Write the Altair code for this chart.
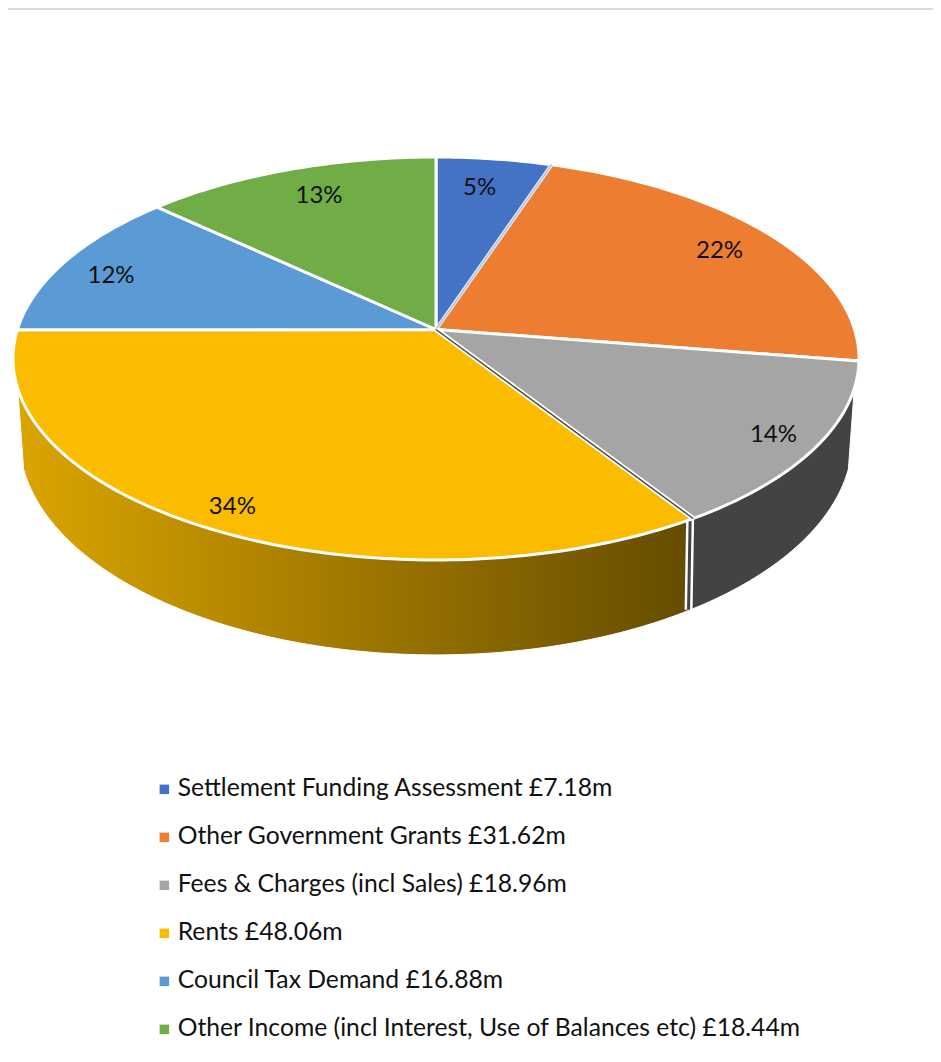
import math
import altair as alt
import pandas as pd

categories = ["Settlement Funding Assessment £7.18m", "Other Government Grants £31.62m",
              "Fees & Charges (incl Sales) £18.96m", "Rents £48.06m",
              "Council Tax Demand £16.88m", "Other Income (incl Interest, Use of Balances etc) £18.44m"]
values = [7.18, 31.62, 18.96, 48.06, 16.88, 18.44]
pct_labels = ["5%", "22%", "14%", "34%", "12%", "13%"]
colors = ["#4472C4", "#ED7D31", "#A5A5A5", "#FBBC00", "#5B9BD5", "#70AD47"]
label_radius = [0.82, 0.84, 0.895, 0.90, 0.86, 0.82]
label_nudge = [-1.0, 0.3, 0.0, 0.0, -1.6, 1.3]

FONT = "Lato"
# perspective disc geometry, offsets from the pie centre
W, H = 925, 1046
CX, CY = 428.0, 321.5
TOP = dict(a=418.6, b=197.3, c=0.0, k=0.1439)
BOT = dict(a=412.0, b=212.0, c=76.0, k=0.15)
WALL_START, WALL_END = 106.7, 253.3


def project(theta, disc, r=1.0):
    t = math.radians(theta)
    X, Y = r * math.sin(t), -r * math.cos(t)
    d = 1 - disc["k"] * Y
    return disc["a"] * X / d, disc["c"] + disc["b"] * Y / d


def arc(t0, t1, disc):
    n = max(2, int(abs(t1 - t0)) + 1)
    return [project(t0 + (t1 - t0) * i / n, disc) for i in range(n + 1)]


total = sum(values)
edges = [0.0]
for v in values:
    edges.append(edges[-1] + v / total * 360)

wedge_rows, text_rows = [], []
for idx, name in enumerate(categories):
    t0, t1 = edges[idx], edges[idx + 1]
    pts = [(0.0, 0.0)] + arc(t0, t1, TOP) + [(0.0, 0.0)]
    for i, (x, y) in enumerate(pts):
        wedge_rows.append({"name": name, "i": i, "x": x, "y": y})
    lx, ly = project((t0 + t1) / 2 + label_nudge[idx], TOP, label_radius[idx])
    text_rows.append({"x": lx, "y": ly, "t": pct_labels[idx]})
wedges = pd.DataFrame(wedge_rows)
texts = pd.DataFrame(text_rows)


def wall(t0, t1):
    pts = arc(t0, t1, TOP) + arc(t1, t0, BOT)
    pts.append(pts[0])
    return pd.DataFrame([{"i": i, "x": x, "y": y} for i, (x, y) in enumerate(pts)])


xs = alt.X("x:Q", axis=None, scale=alt.Scale(domain=[-CX, W - CX], nice=False, zero=False))
ys = alt.Y("y:Q", axis=None, scale=alt.Scale(domain=[H - CY, -CY], nice=False, zero=False))

seam_grey = edges[3]
wall_yellow = alt.Chart(wall(seam_grey, WALL_END)).mark_line(
    stroke="white", strokeWidth=1, strokeJoin="round",
    fill=alt.Gradient(gradient="linear", x1=1, x2=0, y1=0, y2=0, stops=[
        alt.GradientStop(color="#644B00", offset=0.0),
        alt.GradientStop(color="#6B5000", offset=0.06),
        alt.GradientStop(color="#DBA500", offset=1.0),
    ])).encode(x=xs, y=ys, order="i:Q")
wall_grey = alt.Chart(wall(WALL_START, seam_grey)).mark_line(
    stroke="white", strokeWidth=1, strokeJoin="round", fill="#434343"
).encode(x=xs, y=ys, order="i:Q")


def seam(points, color, width):
    df = pd.DataFrame([{"i": i, "x": x, "y": y} for i, (x, y) in enumerate(points)])
    return alt.Chart(df).mark_line(stroke=color, strokeWidth=width).encode(x=xs, y=ys, order="i:Q")


top_pt, bot_pt = project(seam_grey, TOP), project(seam_grey, BOT)
strip = [(top_pt[0] - 3, top_pt[1] + 1), (bot_pt[0] - 2, bot_pt[1])]
seam_layers = [
    seam(strip, "white", 8),
    seam(strip, "#434343", 3),
]

pie = alt.Chart(wedges).mark_line(stroke="white", strokeWidth=3, strokeJoin="round").encode(
    x=xs, y=ys, order="i:Q", detail="name:N",
    fill=alt.Fill("name:N", sort=categories,
                  scale=alt.Scale(domain=categories, range=colors),
                  legend=alt.Legend(orient="none", legendX=144, legendY=769, title=None,
                                    symbolType="square", symbolSize=90, symbolStrokeWidth=0,
                                    labelFont=FONT, labelFontSize=24.7, labelColor="#111111",
                                    labelLimit=800, labelOffset=1, rowPadding=22,
                                    symbolOpacity=1)),
)

seam_top = [
    seam([(0.0, 0.0), project(edges[1], TOP)], "#DCE3F2", 3.8),
    seam([(0.0, 0.0), project(edges[1], TOP)], "#8FA5D4", 0.8),
    seam([(0.0, 0.0), top_pt], "white", 5),
    seam([(0.0, 0.0), top_pt], "#434343", 1.4),
]

labels = alt.Chart(texts).mark_text(font=FONT, fontSize=24, color="#111111", dy=2).encode(
    x=xs, y=ys, text="t:N")

topline = alt.Chart(pd.DataFrame({"a": [0]})).mark_rule(color="#D9D9D9", strokeWidth=2).encode(
    x=alt.value(0), x2=alt.value(W), y=alt.value(1))

chart = alt.layer(topline, wall_yellow, wall_grey, *seam_layers, pie, *seam_top, labels).properties(
    width=W, height=H, padding=0, autosize=alt.AutoSizeParams(type="none"), background="white"
).configure_view(stroke=None)

chart.save("out.html", embed_options={"renderer": "svg", "actions": False})
